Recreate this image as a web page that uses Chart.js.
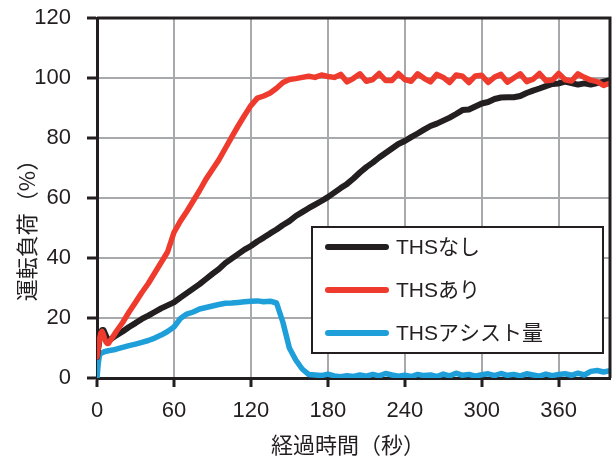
<!DOCTYPE html>
<html>
<head>
<meta charset="utf-8">
<script src="https://cdn.jsdelivr.net/npm/chart.js@4/dist/chart.umd.min.js"></script>
<style>
  body { margin: 0; background: #fff; }
  #chart { display: block; }
</style>
</head>
<body>
<canvas id="chart" width="616" height="459"></canvas>
<script>
// 経過時間（秒）
const tiempos = [0, 1, 2, 3, 4, 5, 6, 7, 8, 9, 10, 12, 15,
  20, 25, 30, 35, 40, 45, 50, 55, 60, 65, 70, 75, 80, 85, 90, 95,
  100, 105, 110, 115, 120, 125, 130, 135, 140, 145, 150, 155, 160, 165, 170, 175,
  180, 185, 190, 195, 200, 205, 210, 215, 220, 225, 230, 235, 240, 245, 250, 255,
  260, 265, 270, 275, 280, 285, 290, 295, 300, 305, 310, 315, 320, 325, 330, 335,
  340, 345, 350, 355, 360, 365, 370, 375, 380, 385, 390, 395, 400];

// THSなし
const thsNashi = [7, 10, 13, 15, 16, 16, 15, 14, 13, 12.7, 12.7, 13.3, 14.2,
  15.5, 17, 18.3, 19.7, 20.8, 22, 23.2, 24.2, 25.2, 26.8, 28.3, 29.8, 31.3, 33, 34.7, 36.3,
  38.3, 39.8, 41.3, 42.8, 44, 45.5, 46.8, 48.2, 49.5, 51, 52.3, 54, 55.3, 56.6, 57.8, 59,
  60.3, 61.8, 63.3, 64.7, 66.5, 68.5, 70.3, 71.8, 73.5, 75, 76.5, 78, 79, 80.3, 81.5, 82.8,
  84, 84.8, 85.8, 86.8, 88, 89.3, 89.5, 90.5, 91.5, 92, 93, 93.5, 93.6, 93.6, 94, 95,
  95.8, 96.5, 97.3, 98, 98.2, 98.8, 98.3, 97.8, 98.2, 97.8, 98.3, 98.8, 99.3];

// THSあり
const thsAri = [7, 10, 13, 15, 15.5, 14.5, 13, 12, 11.5, 11.6, 12.3, 13.5, 15.5,
  18.5, 22, 25.2, 28.5, 31.5, 35, 38.5, 42, 48.5, 52.3, 55.5, 59, 62.5, 66.3, 69.5, 72.7,
  76.5, 80.3, 84, 87.5, 90.8, 93.3, 94, 95, 96.6, 98.5, 99.5, 99.8, 100.2, 100.6, 100.2, 101,
  100.5, 100.2, 101.2, 98.7, 99.9, 101.4, 98.9, 99.5, 101.5, 99.2, 99.2, 101.5, 99.5, 98.9, 101.4, 99.9,
  98.7, 101.2, 100.2, 98.5, 101, 100.6, 98.5, 100.7, 100.9, 98.5, 100.3, 101.2, 98.6, 100, 101.4, 98.8,
  99.6, 101.5, 99.1, 99.3, 101.5, 99.4, 99, 101.4, 100.2, 99.3, 98.8, 97.5, 98.3];

// THSアシスト量
const thsAsist = [0, 5, 7.8, 8.2, 8.4, 8.6, 8.8, 8.9, 9, 9.1, 9.2, 9.3, 9.6,
  10.2, 10.8, 11.3, 11.9, 12.5, 13.3, 14.3, 15.5, 17, 19.8, 21.3, 22, 23, 23.5, 24, 24.5,
  24.9, 25, 25.2, 25.4, 25.6, 25.7, 25.4, 25.6, 25, 18.5, 10, 6, 3, 1.2, 1, 0.8,
  1.3, 0.7, 0.4, 0.8, 0.5, 1, 0.6, 1.2, 0.7, 1.5, 1, 0.6, 0.9, 0.5, 1.2, 0.8,
  1, 0.5, 1.3, 0.7, 1.6, 0.9, 1.2, 0.6, 1.1, 1.4, 0.8, 1.5, 0.9, 1.2, 0.7, 1.4,
  1, 0.6, 1.3, 0.8, 1.2, 1.4, 0.9, 1.6, 1, 2.2, 2.5, 2, 2.4];

const xTicks = [0, 60, 120, 180, 240, 300, 360];
const yTicks = [0, 20, 40, 60, 80, 100, 120];
const nombres = ['THSなし', 'THSあり', 'THSアシスト量'];
const colores = ['#231f20', '#ef3b2d', '#1f9fd9'];
const tituloX = '経過時間（秒）';
const tituloY = '運転負荷（%）';

const FUENTE = '"Liberation Sans", "Noto Sans CJK JP", sans-serif';
const FUENTE_CJK = '"Noto Sans CJK JP", sans-serif';
const TINTA = '#231f20';

function puntos(valores) {
  return tiempos.map((t, i) => ({ x: t, y: valores[i] }));
}

// marco superior/derecho, títulos de ejes y leyenda
const marcoYLeyenda = {
  id: 'marcoYLeyenda',
  afterDraw(chart) {
    const ctx = chart.ctx;
    const a = chart.chartArea;
    ctx.save();
    ctx.strokeStyle = TINTA;
    ctx.lineWidth = 3;
    ctx.beginPath();
    ctx.moveTo(a.left, a.top);
    ctx.lineTo(a.right, a.top);
    ctx.lineTo(a.right, a.bottom);
    ctx.stroke();

    // títulos
    ctx.fillStyle = TINTA;
    ctx.font = '22px ' + FUENTE_CJK;
    ctx.textAlign = 'center';
    ctx.textBaseline = 'middle';
    ctx.fillText(tituloX, 348, 445);
    ctx.save();
    ctx.translate(27, 225);
    ctx.rotate(-Math.PI / 2);
    ctx.fillText(tituloY, 0, 0);
    ctx.restore();

    // leyenda
    const x0 = 312, y0 = 227, w = 291, h = 126;
    ctx.fillStyle = '#fff';
    ctx.fillRect(x0, y0, w, h);
    ctx.lineWidth = 2;
    ctx.strokeRect(x0, y0, w, h);
    ctx.font = '21px ' + FUENTE;
    ctx.textAlign = 'left';
    ctx.lineCap = 'round';
    nombres.forEach((n, i) => {
      const yy = y0 + 20 + i * 43;
      ctx.strokeStyle = colores[i];
      ctx.lineWidth = 6;
      ctx.beginPath();
      ctx.moveTo(x0 + 16, yy);
      ctx.lineTo(x0 + 74, yy);
      ctx.stroke();
      ctx.fillStyle = TINTA;
      ctx.fillText(n, x0 + 84, yy + 1);
    });
    ctx.restore();
  }
};

new Chart(document.getElementById('chart'), {
  type: 'line',
  data: {
    datasets: [
      { label: nombres[1], data: puntos(thsAri), borderColor: colores[1], borderWidth: 5.5, order: 0 },
      { label: nombres[0], data: puntos(thsNashi), borderColor: colores[0], borderWidth: 6, order: 1 },
      { label: nombres[2], data: puntos(thsAsist), borderColor: colores[2], borderWidth: 5.5, order: 2 }
    ]
  },
  options: {
    responsive: false,
    animation: false,
    parsing: false,
    elements: {
      point: { radius: 0 },
      line: { tension: 0, borderJoinStyle: 'round', borderCapStyle: 'round' }
    },
    layout: { padding: { top: 18, right: 6, left: 0, bottom: 0 } },
    plugins: { legend: { display: false }, tooltip: { enabled: false } },
    scales: {
      x: {
        type: 'linear',
        min: 0,
        max: 400,
        afterBuildTicks: s => { s.ticks = xTicks.map(v => ({ value: v })); },
        afterFit: s => { s.height = 81; s.paddingLeft = 0; s.paddingRight = 0; },
        border: { color: TINTA, width: 3 },
        grid: { color: '#a7a9ac', lineWidth: 2, tickColor: TINTA, tickWidth: 3, tickLength: 9 },
        ticks: { color: TINTA, font: { family: FUENTE, size: 22 }, padding: 11, maxRotation: 0 }
      },
      y: {
        min: 0,
        max: 120,
        afterBuildTicks: s => { s.ticks = yTicks.map(v => ({ value: v })); },
        afterFit: s => { s.width = 97; s.paddingTop = 0; s.paddingBottom = 0; },
        border: { color: TINTA, width: 3 },
        grid: { color: '#a7a9ac', lineWidth: 2, tickColor: TINTA, tickWidth: 3, tickLength: 10 },
        ticks: { color: TINTA, font: { family: FUENTE, size: 22 }, padding: 16 }
      }
    }
  },
  plugins: [marcoYLeyenda]
});
</script>
</body>
</html>
